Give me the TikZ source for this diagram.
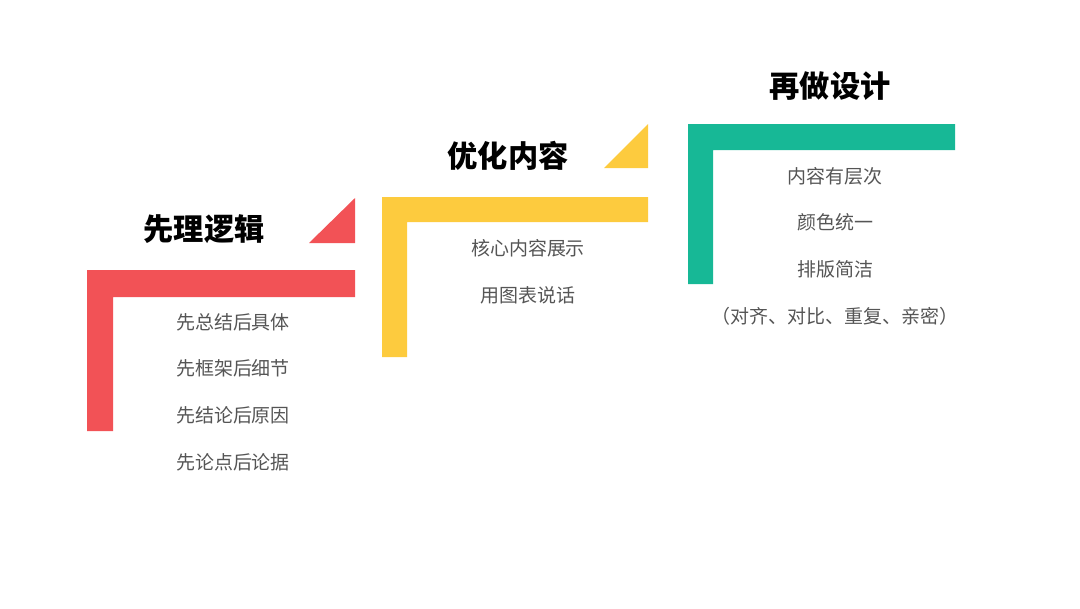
\documentclass[tikz,border=0pt]{standalone}
\usepackage{fontspec}
\newfontfamily\cjk{Noto Sans CJK SC}
\definecolor{stepred}{HTML}{F25256}
\definecolor{stepyellow}{HTML}{FDCB3E}
\definecolor{stepgreen}{HTML}{17B896}
\definecolor{itemgray}{HTML}{555555}
\tikzset{
    title/.style={font=\cjk\fontsize{8.6}{10}\selectfont\bfseries, text=black},
    item/.style={font=\cjk\fontsize{5.4}{6}\selectfont, text=itemgray}
}
\begin{document}
\begin{tikzpicture}[x=0.01cm,y=-0.01cm]
\useasboundingbox (0,0) rectangle (1080,608);
% red step
\fill[stepred] (87,270) rectangle (355,297) (87,270) rectangle (113,431);
\fill[stepred] (309,243) -- (355,243) -- (355,198) -- cycle;
\node[title] (logic) at (204,229) {先理逻辑};
\foreach \t [count=\i] in {先总结后具体,先框架后细节,先结论后原因,先论点后论据}
  \node[item] (logic-\i) at (233,322+46.7*\i-46.7) {\t};
% yellow step
\fill[stepyellow] (382,197) rectangle (648,222) (382,197) rectangle (407,357);
\fill[stepyellow] (604,168) -- (648,168) -- (648,124) -- cycle;
\node[title] (content) at (508,156) {优化内容};
\foreach \t [count=\i] in {核心内容展示,用图表说话}
  \node[item] (content-\i) at (528,248+47*\i-47) {\t};
% green step
\fill[stepgreen] (688,124) rectangle (955,150) (688,124) rectangle (713,284);
\node[title] (design) at (830,86) {再做设计};
\foreach \t [count=\i] in {内容有层次,颜色统一,排版简洁,（对齐、对比、重复、亲密）}
  \node[item] (design-\i) at (835,176+46.7*\i-46.7) {\t};
\end{tikzpicture}
\end{document}
